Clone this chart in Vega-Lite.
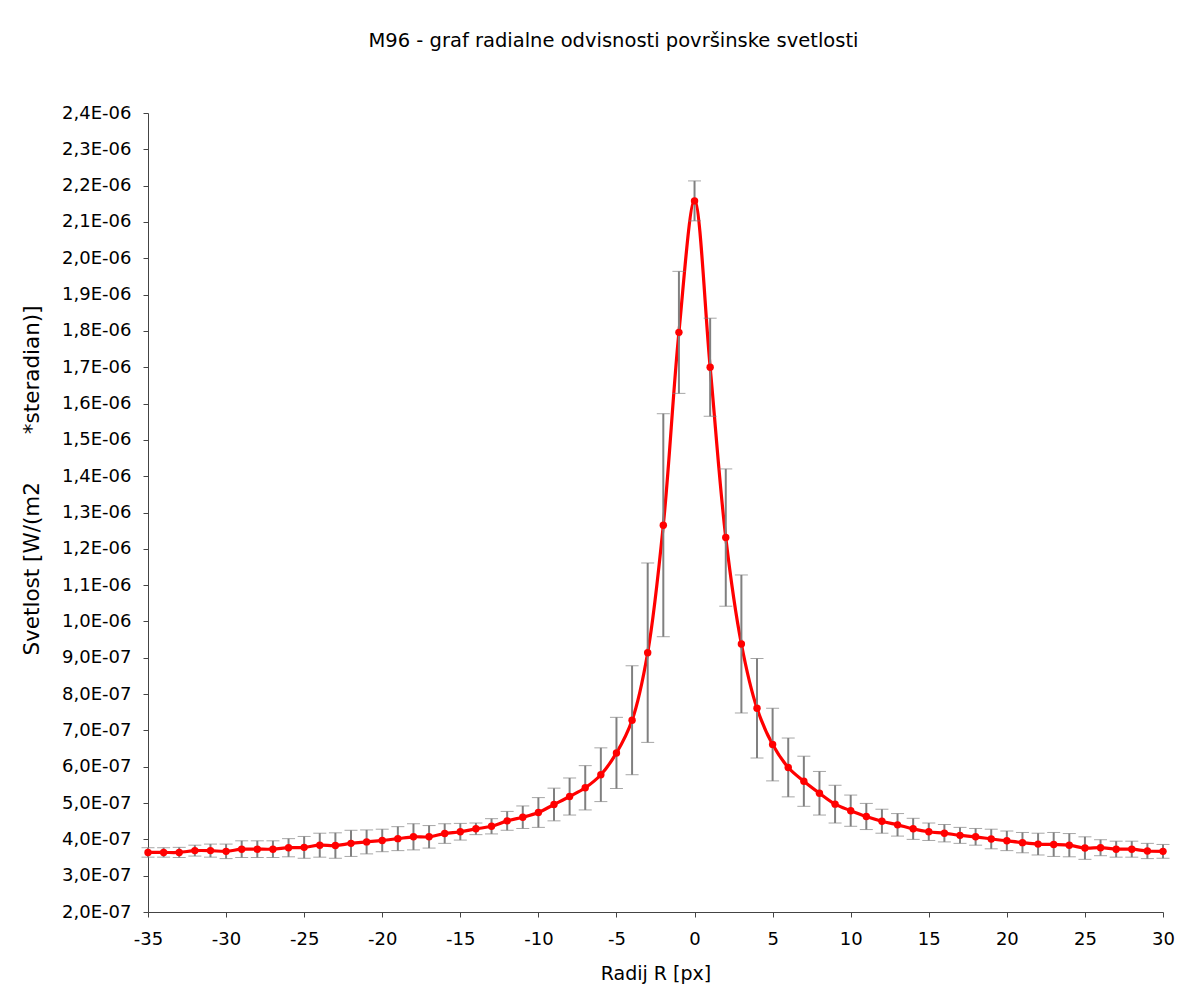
{
  "$schema": "https://vega.github.io/schema/vega-lite/v6.json",
  "width": 1015,
  "height": 799,
  "autosize": {"type": "none"},
  "padding": {"left": 148, "top": 113, "right": 31, "bottom": 82},
  "background": "white",
  "title": {
    "text": "M96 - graf radialne odvisnosti površinske svetlosti",
    "font": "DejaVu Sans",
    "fontSize": 19.5,
    "fontWeight": "normal",
    "color": "black",
    "anchor": "middle",
    "frame": "group",
    "dx": -42,
    "offset": 53
  },
  "config": {
    "view": {"stroke": null},
    "axis": {
      "grid": false,
      "domainColor": "#444444",
      "tickColor": "#444444",
      "labelFont": "DejaVu Sans",
      "labelFontSize": 18,
      "labelColor": "black",
      "titleFont": "DejaVu Sans",
      "titleFontSize": 19,
      "titleFontWeight": "normal",
      "titleColor": "black",
      "tickSize": 5
    }
  },
  "data": {
    "values": [
      {"r": -35, "v": 3.64e-7, "err": 1.3e-8},
      {"r": -34, "v": 3.64e-7, "err": 1.3e-8},
      {"r": -33, "v": 3.64e-7, "err": 1.4e-8},
      {"r": -32, "v": 3.69e-7, "err": 1.5e-8},
      {"r": -31, "v": 3.69e-7, "err": 1.8e-8},
      {"r": -30, "v": 3.67e-7, "err": 2.0e-8},
      {"r": -29, "v": 3.73e-7, "err": 2.3e-8},
      {"r": -28, "v": 3.73e-7, "err": 2.3e-8},
      {"r": -27, "v": 3.73e-7, "err": 2.3e-8},
      {"r": -26, "v": 3.77e-7, "err": 2.5e-8},
      {"r": -25, "v": 3.78e-7, "err": 3.0e-8},
      {"r": -24, "v": 3.84e-7, "err": 3.3e-8},
      {"r": -23, "v": 3.83e-7, "err": 3.5e-8},
      {"r": -22, "v": 3.89e-7, "err": 3.6e-8},
      {"r": -21, "v": 3.93e-7, "err": 3.3e-8},
      {"r": -20, "v": 3.97e-7, "err": 3.1e-8},
      {"r": -19, "v": 4.02e-7, "err": 3.3e-8},
      {"r": -18, "v": 4.07e-7, "err": 3.6e-8},
      {"r": -17, "v": 4.07e-7, "err": 3.1e-8},
      {"r": -16, "v": 4.16e-7, "err": 2.7e-8},
      {"r": -15, "v": 4.21e-7, "err": 2.3e-8},
      {"r": -14, "v": 4.29e-7, "err": 1.6e-8},
      {"r": -13, "v": 4.36e-7, "err": 2.1e-8},
      {"r": -12, "v": 4.51e-7, "err": 2.6e-8},
      {"r": -11, "v": 4.61e-7, "err": 3.1e-8},
      {"r": -10, "v": 4.74e-7, "err": 4.1e-8},
      {"r": -9, "v": 4.96e-7, "err": 4.5e-8},
      {"r": -8, "v": 5.18e-7, "err": 5.1e-8},
      {"r": -7, "v": 5.42e-7, "err": 6.1e-8},
      {"r": -6, "v": 5.78e-7, "err": 7.4e-8},
      {"r": -5, "v": 6.38e-7, "err": 9.8e-8},
      {"r": -4, "v": 7.28e-7, "err": 1.50e-7},
      {"r": -3, "v": 9.14e-7, "err": 2.47e-7},
      {"r": -2, "v": 1.265e-6, "err": 3.07e-7},
      {"r": -1, "v": 1.796e-6, "err": 1.68e-7},
      {"r": 0, "v": 2.158e-6, "err": 5.5e-8},
      {"r": 1, "v": 1.700e-6, "err": 1.35e-7},
      {"r": 2, "v": 1.231e-6, "err": 1.89e-7},
      {"r": 3, "v": 9.38e-7, "err": 1.90e-7},
      {"r": 4, "v": 7.61e-7, "err": 1.37e-7},
      {"r": 5, "v": 6.61e-7, "err": 1.00e-7},
      {"r": 6, "v": 5.98e-7, "err": 8.1e-8},
      {"r": 7, "v": 5.60e-7, "err": 6.9e-8},
      {"r": 8, "v": 5.27e-7, "err": 6.0e-8},
      {"r": 9, "v": 4.97e-7, "err": 5.2e-8},
      {"r": 10, "v": 4.79e-7, "err": 4.3e-8},
      {"r": 11, "v": 4.63e-7, "err": 3.6e-8},
      {"r": 12, "v": 4.50e-7, "err": 3.3e-8},
      {"r": 13, "v": 4.40e-7, "err": 3.1e-8},
      {"r": 14, "v": 4.29e-7, "err": 2.9e-8},
      {"r": 15, "v": 4.21e-7, "err": 2.4e-8},
      {"r": 16, "v": 4.17e-7, "err": 2.4e-8},
      {"r": 17, "v": 4.11e-7, "err": 2.2e-8},
      {"r": 18, "v": 4.07e-7, "err": 2.3e-8},
      {"r": 19, "v": 4.01e-7, "err": 2.7e-8},
      {"r": 20, "v": 3.96e-7, "err": 2.7e-8},
      {"r": 21, "v": 3.91e-7, "err": 2.8e-8},
      {"r": 22, "v": 3.87e-7, "err": 3.0e-8},
      {"r": 23, "v": 3.86e-7, "err": 3.3e-8},
      {"r": 24, "v": 3.84e-7, "err": 3.2e-8},
      {"r": 25, "v": 3.76e-7, "err": 3.1e-8},
      {"r": 26, "v": 3.77e-7, "err": 2.2e-8},
      {"r": 27, "v": 3.73e-7, "err": 2.2e-8},
      {"r": 28, "v": 3.73e-7, "err": 2.2e-8},
      {"r": 29, "v": 3.68e-7, "err": 2.1e-8},
      {"r": 30, "v": 3.67e-7, "err": 1.9e-8}
    ]
  },
  "encoding": {
    "x": {
      "field": "r",
      "type": "quantitative",
      "scale": {"domain": [-35, 30], "nice": false, "zero": false},
      "axis": {
        "title": "Radij R [px]",
        "values": [-35, -30, -25, -20, -15, -10, -5, 0, 5, 10, 15, 20, 25, 30],
        "labelExpr": "replace(datum.label, '\u2212', '-')",
        "labelPadding": 13,
        "titlePadding": 16,
        "labelFlush": false
      }
    },
    "y": {
      "field": "v",
      "type": "quantitative",
      "scale": {"domain": [2.0e-7, 2.4e-6], "nice": false, "zero": false},
      "axis": {
        "title": "Svetlost [W/(m2\u00a0\u00a0\u00a0\u00a0\u00a0\u00a0\u00a0*steradian)]",
        "titleFontSize": 21.5,
        "values": [2.0e-7, 3.0e-7, 4.0e-7, 5.0e-7, 6.0e-7, 7.0e-7, 8.0e-7, 9.0e-7, 1.0e-6, 1.1e-6, 1.2e-6, 1.3e-6, 1.4e-6, 1.5e-6, 1.6e-6, 1.7e-6, 1.8e-6, 1.9e-6, 2.0e-6, 2.1e-6, 2.2e-6, 2.3e-6, 2.4e-6],
        "labelExpr": "datum.value < 9.95e-7 ? replace(format(datum.value * 1e7, '.1f'), '.', ',') + 'E-07' : replace(format(datum.value * 1e6, '.1f'), '.', ',') + 'E-06'",
        "labelPadding": 12,
        "labelFlush": false,
        "titleX": -116,
        "titleY": 367,
        "titleAngle": 270,
        "titleAlign": "center",
        "titleBaseline": "middle"
      }
    }
  },
  "layer": [
    {
      "mark": {"type": "line", "color": "#ff0000", "strokeWidth": 3.2, "interpolate": "catmull-rom"}
    },
    {
      "mark": {
        "type": "errorbar",
        "ticks": {"size": 13, "color": "#808080", "strokeWidth": 2},
        "rule": {"color": "#808080", "strokeWidth": 2}
      },
      "encoding": {
        "yError": {"field": "err"}
      }
    },
    {
      "mark": {"type": "point", "filled": true, "color": "#ff0000", "opacity": 1, "size": 55}
    }
  ]
}
